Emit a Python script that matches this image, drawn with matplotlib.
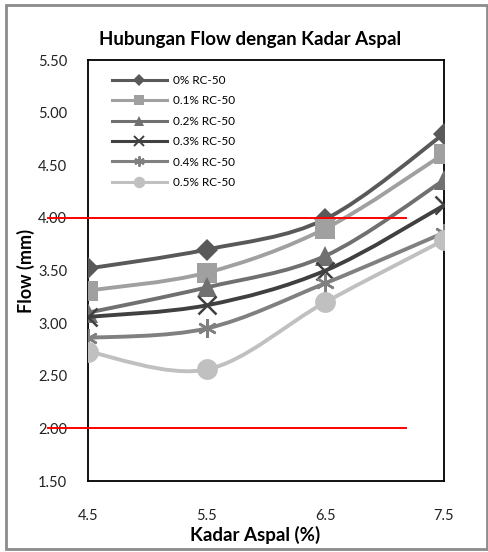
import matplotlib
matplotlib.use('Agg')
import matplotlib.pyplot as plt
import numpy as np
from matplotlib.path import Path
from matplotlib.patches import PathPatch, Rectangle
from matplotlib.lines import Line2D

plt.rcParams['font.family'] = ['Lato', 'DejaVu Sans']

kadar = [4.5, 5.5, 6.5, 7.5]
labels = ['0% RC-50', '0.1% RC-50', '0.2% RC-50', '0.3% RC-50', '0.4% RC-50', '0.5% RC-50']
flow = [
    [3.52, 3.70, 3.99, 4.80],
    [3.31, 3.48, 3.90, 4.61],
    [3.10, 3.34, 3.64, 4.36],
    [3.06, 3.17, 3.50, 4.12],
    [2.86, 2.95, 3.38, 3.86],
    [2.73, 2.56, 3.20, 3.79],
]
red_levels = [4.0, 2.0]
red_span = [4.16, 7.18]

colors = ['#595959', '#a0a0a0', '#707070', '#404040', '#808080', '#c0c0c0']
markers = ['D', 's', '^', 'x', (6, 2, 0), 'o']
msizes = [11.5, 14, 14, 13.5, 13.5, 15]


def smooth_path(x, y):
    # excel-like smoothed line: cubic bezier through the points
    pts = np.column_stack([x, y])
    n = len(pts)
    verts = [pts[0]]
    codes = [Path.MOVETO]
    for i in range(n - 1):
        p0 = pts[max(i - 1, 0)]
        p1 = pts[i]
        p2 = pts[i + 1]
        p3 = pts[min(i + 2, n - 1)]
        c1 = p1 + (p2 - p0) / 6
        c2 = p2 - (p3 - p1) / 6
        verts += [c1, c2, p2]
        codes += [Path.CURVE4] * 3
    return Path(verts, codes)


fig = plt.figure(figsize=(4.89, 5.52), dpi=100)
ax = fig.add_axes([0.18, 0.1286, 0.728, 0.7624])

handles = []
for i, (lab, vals) in enumerate(zip(labels, flow)):
    c = colors[i]
    ax.add_patch(PathPatch(smooth_path(kadar, vals), facecolor='none',
                           edgecolor=c, lw=2.8, zorder=2 + i * 2))
    thin = markers[i] == 'x' or isinstance(markers[i], tuple)
    mew = 1.8 if thin else 0
    ax.plot(kadar, vals, ls='none', marker=markers[i], ms=msizes[i],
            color=c, mec=c, mew=mew, zorder=3 + i * 2)
    handles.append(Line2D([], [], color=c, lw=2.2, marker=markers[i],
                          ms=msizes[i] * 0.55, mec=c, mew=1.4 if thin else 0))

for lvl in red_levels:
    ax.plot(red_span, [lvl, lvl], color='red', lw=1.4, clip_on=False, zorder=20)

ax.set_xlim(4.5, 7.5)
ax.set_ylim(1.5, 5.5)
ax.set_xticks(kadar)
ax.set_xticklabels(['4.5', '5.5', '6.5', '7.5'])
ax.set_yticks(np.arange(1.5, 5.51, 0.5))
ax.set_yticklabels(['%.2f' % v for v in np.arange(1.5, 5.51, 0.5)])
ax.tick_params(length=0, labelsize=10.5, colors='#222222')
ax.tick_params(axis='x', pad=20)
ax.tick_params(axis='y', pad=15)
for s in ax.spines.values():
    s.set_linewidth(1.3)
    s.set_color('black')

ax.set_ylabel('Flow (mm)', fontsize=13, fontweight='bold', labelpad=2)
fig.text(0.521, 0.031, 'Kadar Aspal (%)', ha='center', va='center',
         fontsize=13.5, fontweight='bold')
fig.text(0.511, 0.928, 'Hubungan Flow dengan Kadar Aspal', ha='center',
         va='center', fontsize=13.5, fontweight='bold')

ax.legend(handles, labels, loc='upper left', bbox_to_anchor=(0.045, 0.985),
          frameon=False, fontsize=8.5, handlelength=4.6, handletextpad=0.5,
          labelspacing=0.8, borderaxespad=0.3)

fig.patches.append(Rectangle((6 / 489, 3 / 552), 481 / 489, 544 / 552,
                             transform=fig.transFigure, fill=False,
                             edgecolor='#8c8c8c', lw=2))

fig.savefig('out.png', dpi=100)
